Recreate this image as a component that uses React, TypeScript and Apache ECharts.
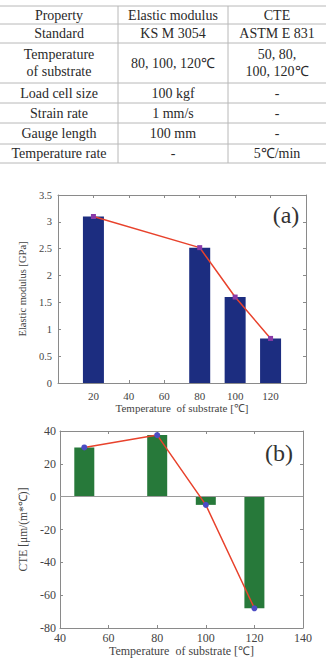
import React, { useEffect, useRef } from "react";
import * as echarts from "echarts";

// Test-condition table
const tableRows: string[][] = [
  ["Property", "Elastic modulus", "CTE"],
  ["Standard", "KS M 3054", "ASTM E 831"],
  ["Temperature\nof substrate", "80, 100, 120\u2103", "50, 80,\n100, 120\u2103"],
  ["Load cell size", "100 kgf", "-"],
  ["Strain rate", "1 mm/s", "-"],
  ["Gauge length", "100 mm", "-"],
  ["Temperature rate", "-", "5\u2103/min"],
];

// (a) elastic modulus vs substrate temperature
const modulusTemps = [20, 80, 100, 120];
const modulusValues = [3.1, 2.52, 1.6, 0.83];

// (b) CTE vs substrate temperature
const cteTemps = [50, 80, 100, 120];
const cteValues = [30, 37.5, -5, -68];

const SERIF = "'Liberation Serif', 'Times New Roman', serif";

function buildTable(): any[] {
  const rowEdges = [6, 24, 43, 83, 103, 123, 144, 163];
  const colEdges = [0, 118, 228, 326];
  const els: any[] = [];
  rowEdges.forEach((y) => {
    els.push({
      type: "line",
      shape: { x1: 0, y1: y, x2: 326, y2: y },
      style: { stroke: "#b8b8b8", lineWidth: 1 },
    });
  });
  [118, 228].forEach((x) => {
    els.push({
      type: "line",
      shape: { x1: x, y1: rowEdges[0], x2: x, y2: rowEdges[rowEdges.length - 1] },
      style: { stroke: "#b8b8b8", lineWidth: 1 },
    });
  });
  tableRows.forEach((row, r) => {
    const cy = (rowEdges[r] + rowEdges[r + 1]) / 2;
    row.forEach((cell, c) => {
      const cx = (colEdges[c] + colEdges[c + 1]) / 2;
      els.push({
        type: "text",
        x: cx,
        y: cy,
        style: {
          text: cell,
          align: "center",
          verticalAlign: "middle",
          fontFamily: SERIF,
          fontSize: 14,
          lineHeight: 17,
          fill: "#2a2a2a",
        },
      });
    });
  });
  return els;
}

export default function App() {
  const ref = useRef<HTMLDivElement>(null);

  useEffect(() => {
    if (!ref.current) return;
    const chart = echarts.init(ref.current, null, { renderer: "svg" });

    const axisColor = "#8a8a8a";
    const labelColor = "#444";

    const boxAxis = (extra: any) => ({
      type: "value",
      splitLine: { show: false },
      axisLine: { show: true, onZero: false, lineStyle: { color: axisColor, width: 1 } },
      axisTick: { show: true, inside: true, length: 3, lineStyle: { color: axisColor } },
      ...extra,
    });

    const modulusData = modulusTemps.map((t, i) => [t, modulusValues[i]]);
    const cteData = cteTemps.map((t, i) => [t, cteValues[i]]);

    chart.setOption({
      animation: false,
      backgroundColor: "#ffffff",
      textStyle: { fontFamily: SERIF },
      grid: [
        { left: 58, top: 195, width: 248, height: 188 },
        { left: 60, top: 431, width: 243, height: 201 },
      ],
      xAxis: [
        boxAxis({
          gridIndex: 0,
          position: "bottom",
          min: 0,
          max: 140,
          interval: 20,
          axisLabel: {
            showMinLabel: false,
            showMaxLabel: false,
            color: labelColor,
            fontSize: 11,
            fontFamily: SERIF,
            margin: 7,
          },
          name: "Temperature  of substrate [\u2103]",
          nameLocation: "middle",
          nameGap: 19,
          nameTextStyle: { color: labelColor, fontSize: 11, fontFamily: SERIF },
        }),
        boxAxis({
          gridIndex: 0,
          position: "top",
          min: 0,
          max: 140,
          interval: 20,
          axisLabel: { show: false },
        }),
        boxAxis({
          gridIndex: 1,
          position: "bottom",
          min: 40,
          max: 140,
          interval: 20,
          axisLabel: { color: labelColor, fontSize: 12, fontFamily: SERIF, margin: 4 },
          name: "Temperature  of substrate [\u2103]",
          nameLocation: "middle",
          nameGap: 17,
          nameTextStyle: { color: labelColor, fontSize: 12, fontFamily: SERIF },
        }),
        boxAxis({
          gridIndex: 1,
          position: "top",
          min: 40,
          max: 140,
          interval: 20,
          axisLabel: { show: false },
        }),
      ],
      yAxis: [
        boxAxis({
          gridIndex: 0,
          position: "left",
          min: 0,
          max: 3.5,
          interval: 0.5,
          axisLabel: { color: labelColor, fontSize: 10.5, fontFamily: SERIF, margin: 6 },
          name: "Elastic modulus [GPa]",
          nameLocation: "middle",
          nameGap: 23,
          nameTextStyle: { color: labelColor, fontSize: 10.5, fontFamily: SERIF },
        }),
        boxAxis({
          gridIndex: 0,
          position: "right",
          min: 0,
          max: 3.5,
          interval: 0.5,
          axisLabel: { show: false },
        }),
        boxAxis({
          gridIndex: 1,
          position: "left",
          min: -80,
          max: 40,
          interval: 20,
          axisLabel: { color: labelColor, fontSize: 12, fontFamily: SERIF, margin: 4 },
          name: "CTE [\u03bcm/(m*\u2103)]",
          nameLocation: "middle",
          nameGap: 20,
          nameTextStyle: { color: labelColor, fontSize: 11.5, fontFamily: SERIF },
        }),
        boxAxis({
          gridIndex: 1,
          position: "right",
          min: -80,
          max: 40,
          interval: 20,
          axisLabel: { show: false },
        }),
      ],
      series: [
        {
          type: "bar",
          xAxisIndex: 0,
          yAxisIndex: 0,
          data: modulusData,
          barWidth: 21,
          itemStyle: { color: "#1c2d80" },
        },
        {
          type: "line",
          xAxisIndex: 0,
          yAxisIndex: 0,
          data: modulusData,
          symbol: "rect",
          symbolSize: 5,
          itemStyle: { color: "#8a3aa8" },
          lineStyle: { color: "#e8422c", width: 1.5 },
          z: 5,
        },
        {
          type: "bar",
          xAxisIndex: 2,
          yAxisIndex: 2,
          data: cteData,
          barWidth: 20,
          itemStyle: { color: "#27793a" },
          markLine: {
            silent: true,
            symbol: "none",
            label: { show: false },
            lineStyle: { color: "#9a9a9a", type: "solid", width: 1 },
            data: [{ yAxis: 0 }],
          },
        },
        {
          type: "line",
          xAxisIndex: 2,
          yAxisIndex: 2,
          data: cteData,
          symbol: "circle",
          symbolSize: 6,
          itemStyle: { color: "#4c4cc4" },
          lineStyle: { color: "#e8422c", width: 1.5 },
          z: 5,
        },
      ],
      graphic: [
        ...buildTable(),
        {
          type: "text",
          x: 286,
          y: 215,
          style: {
            text: "(a)",
            align: "center",
            verticalAlign: "middle",
            fontFamily: SERIF,
            fontSize: 24,
            fill: "#333",
          },
        },
        {
          type: "text",
          x: 279,
          y: 453,
          style: {
            text: "(b)",
            align: "center",
            verticalAlign: "middle",
            fontFamily: SERIF,
            fontSize: 24,
            fill: "#333",
          },
        },
      ],
    });

    return () => chart.dispose();
  }, []);

  return (
    <div
      ref={ref}
      style={{ position: "fixed", left: 0, top: 0, width: 326, height: 658, background: "#fff" }}
    />
  );
}
